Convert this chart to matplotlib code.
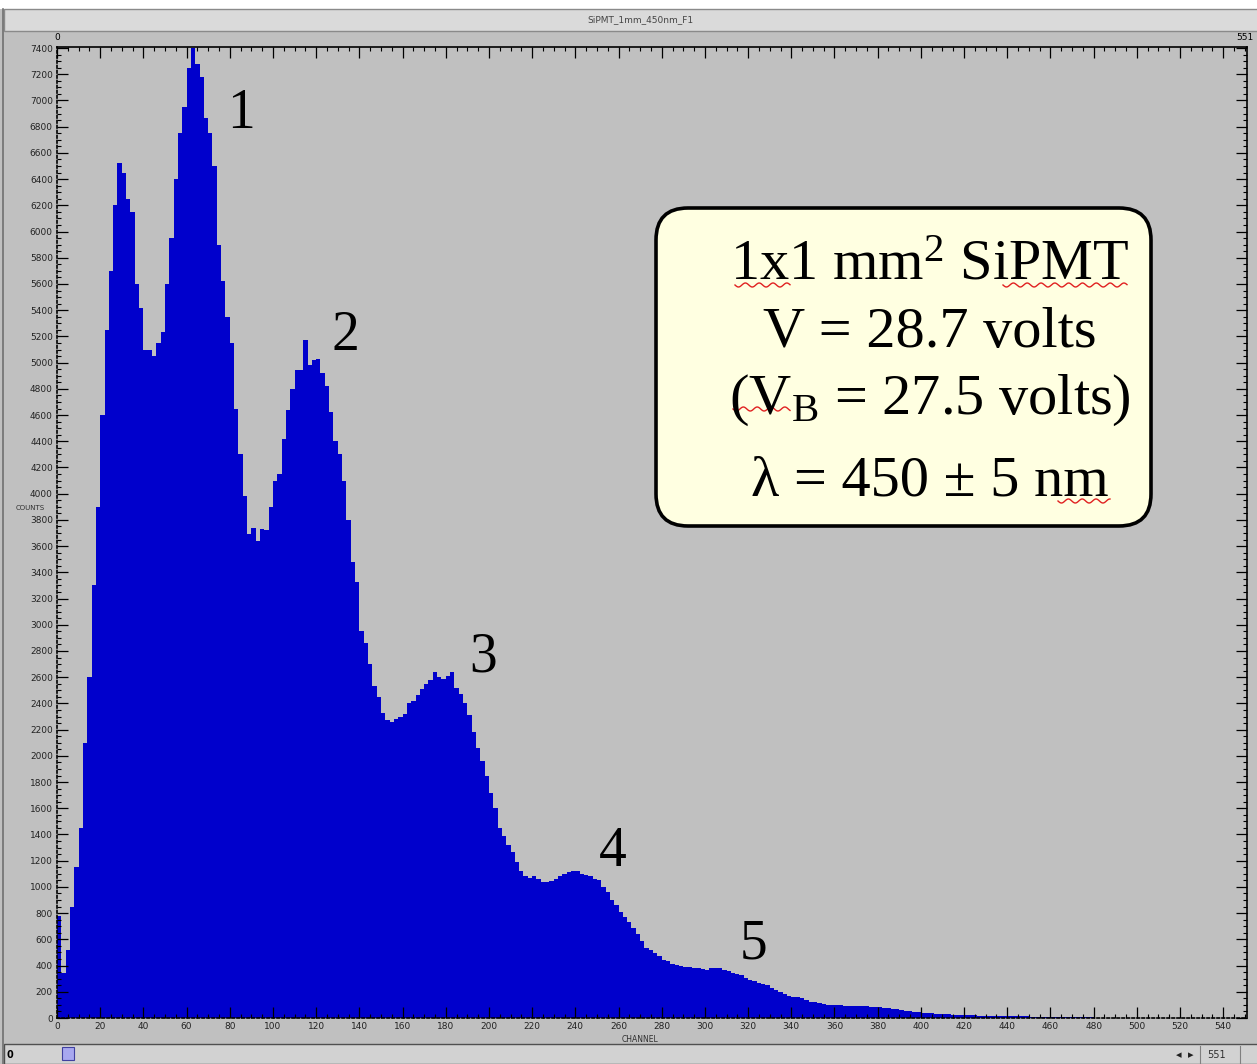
import numpy as np
import matplotlib
matplotlib.use("Agg")
import matplotlib.pyplot as plt
from matplotlib.patches import FancyBboxPatch, Rectangle

plt.rcParams['mathtext.fontset'] = 'custom'
plt.rcParams['mathtext.rm'] = 'Liberation Serif'
plt.rcParams['mathtext.it'] = 'Liberation Serif:italic'

# histogram counts, 2 channels per bin
bin_width = 2
counts = [
    780, 340, 520, 850, 1150, 1450, 2100, 2600, 3300, 3900,
    4600, 5250, 5700, 6200, 6520, 6450, 6250, 6150, 5600, 5420,
    5100, 5100, 5050, 5150, 5230, 5600, 5950, 6400, 6750, 6950,
    7250, 7400, 7280, 7180, 6870, 6750, 6500, 5900, 5620, 5350,
    5150, 4650, 4300, 3980, 3690, 3740, 3640, 3730, 3720, 3900,
    4100, 4150, 4420, 4640, 4800, 4940, 4940, 5170, 4980, 5020,
    5030, 4920, 4820, 4620, 4400, 4300, 4100, 3800, 3480, 3330,
    2950, 2860, 2700, 2530, 2450, 2330, 2270, 2260, 2280, 2300,
    2320, 2400, 2420, 2465, 2510, 2550, 2580, 2640, 2600, 2590,
    2610, 2640, 2520, 2470, 2400, 2310, 2180, 2060, 1960, 1850,
    1720, 1600, 1450, 1390, 1320, 1270, 1190, 1120, 1085, 1070,
    1080, 1060, 1035, 1040, 1045, 1060, 1080, 1100, 1115, 1125,
    1125, 1100, 1090, 1080, 1060, 1050, 1000, 960, 900, 860,
    810, 770, 730, 690, 640, 590, 535, 515, 495, 470,
    445, 435, 415, 405, 400, 390, 390, 380, 380, 375,
    370, 380, 380, 378, 368, 355, 345, 335, 325, 305,
    292, 280, 268, 258, 248, 232, 215, 200, 182, 168,
    162, 158, 150, 135, 125, 120, 115, 110, 102, 100,
    96, 98, 94, 92, 95, 90, 88, 90, 86, 84,
    82, 80, 76, 70, 66, 60, 56, 50, 46, 44,
    40, 38, 36, 33, 30, 30, 28, 26, 24, 22,
    22, 20, 20, 18, 18, 16, 16, 15, 15, 14,
    14, 13, 13, 12, 12, 11, 11, 10, 10, 9,
    9, 8, 7, 6, 6, 5, 5, 4, 4, 4,
    3, 3, 3, 2, 2, 2, 2, 1, 1, 2,
    1, 1, 1, 0, 1, 1, 0, 1, 0, 0,
    1, 0, 0, 1, 0, 0, 0, 1, 0, 0,
    0, 0, 0, 0, 0, 0,
]
n_channels = 551

peak_labels = ['1', '2', '3', '4', '5']
peak_x = [85, 133.5, 197.5, 257.5, 322.5]
peak_y = [6900, 5200, 2750, 1270, 560]

x_ticks = list(range(0, 541, 20))
y_ticks = list(range(0, 7401, 200))

info_lines = [
    r'1x1 mm$^{\mathrm{2}}$ SiPMT',
    'V = 28.7 volts',
    r'(V$_{\mathrm{B}}$ = 27.5 volts)',
    'λ = 450 ± 5 nm',
]

W, H = 1257, 1064
fig = plt.figure(figsize=(W / 100, H / 100), dpi=100)
fig.patch.set_facecolor('#c0c0c0')

# window chrome, pixel coordinates
bg = fig.add_axes([0, 0, 1, 1], zorder=0)
bg.set_xlim(0, W)
bg.set_ylim(H, 0)
bg.axis('off')
bg.add_patch(Rectangle((0, 0), W, 9, facecolor='white', edgecolor='none'))
bg.add_patch(Rectangle((4, 9), W, 22, facecolor='#dadada', edgecolor='#8a8a8a', lw=1))
bg.text(640, 20, 'SiPMT_1mm_450nm_F1', ha='center', va='center', fontsize=6.5, color='#444444')
bg.plot([3, 3], [9, H], color='#707070', lw=1.2)
bg.add_patch(Rectangle((4, 1044), W, 20, facecolor='#d2d2d2', edgecolor='#505050', lw=1))
bg.add_patch(Rectangle((62, 1047), 12, 13, facecolor='#a8a8f0', edgecolor='#4040a0', lw=0.8))
bg.text(10, 1055, '0', ha='center', va='center', fontsize=7, color='black', fontweight='bold')
bg.text(1179, 1055, '◂', ha='center', va='center', fontsize=8, color='#202020')
bg.text(1191, 1055, '▸', ha='center', va='center', fontsize=8, color='#202020')
bg.plot([1200, 1200], [1046, 1063], color='#808080', lw=0.8)
bg.text(1216, 1055, '551', ha='center', va='center', fontsize=7, color='#303030')
bg.plot([1240, 1240], [1046, 1063], color='#808080', lw=0.8)
bg.text(57, 38, '0', ha='center', va='center', fontsize=6.5, color='black')
bg.text(1245, 38, '551', ha='center', va='center', fontsize=6.5, color='black')
bg.text(30, 508, 'COUNTS', ha='center', va='center', fontsize=5, color='#303030')
bg.text(640, 1040, 'CHANNEL', ha='center', va='center', fontsize=5.5, color='#303030')

# histogram
left, right, top, bottom = 57, 1247, 47, 1018
ax = fig.add_axes([left / W, (H - bottom) / H, (right - left) / W, (bottom - top) / H], zorder=1)
ax.set_facecolor('#c0c0c0')
edges = np.arange(len(counts)) * bin_width
ax.bar(edges, counts, width=bin_width, align='edge', color='#0000cc', linewidth=0)
ax.set_xlim(0, n_channels)
ax.set_ylim(0, 7408)

ax.set_xticks(x_ticks)
ax.set_xticks(np.arange(0, n_channels, 5), minor=True)
ax.set_yticks(y_ticks)
ax.set_yticks(np.arange(0, 7408, 50), minor=True)
ax.tick_params(which='both', direction='in', top=True, right=True, colors='black',
               labelsize=6.5, labelcolor='#222222', pad=3)
ax.tick_params(which='major', length=8, width=0.9)
ax.tick_params(which='minor', length=3, width=0.8)
for sp in ['left', 'bottom']:
    ax.spines[sp].set_linestyle((0, (1.5, 1.5)))
for sp in ax.spines.values():
    sp.set_color('black')
    sp.set_linewidth(1.2)

for lab, px, py in zip(peak_labels, peak_x, peak_y):
    ax.text(px, py, lab, ha='center', va='center', fontsize=40,
            family='Liberation Serif', color='black')

# info box on top
ov = fig.add_axes([0, 0, 1, 1], zorder=5)
ov.set_xlim(0, W)
ov.set_ylim(H, 0)
ov.axis('off')
ov.patch.set_alpha(0)
ov.add_patch(FancyBboxPatch((656, 208), 495, 318, boxstyle='round,pad=0,rounding_size=32',
                            facecolor='#ffffe1', edgecolor='black', lw=2.6))
for txt, yb in zip(info_lines, [279, 347, 414, 496]):
    ov.text(930, yb, txt, ha='center', va='baseline', fontsize=42,
            family='Liberation Serif', color='black')

# spell-check squiggles
for x0, x1, yy in [(735, 790, 285), (1003, 1127, 285), (733, 790, 409), (1058, 1110, 501)]:
    xs = np.linspace(x0, x1, int((x1 - x0) * 2))
    ov.plot(xs, yy + 2 * np.sin((xs - x0) / 2.2), color='#e02020', lw=1)

fig.savefig('out.png', dpi=100, facecolor=fig.get_facecolor())
